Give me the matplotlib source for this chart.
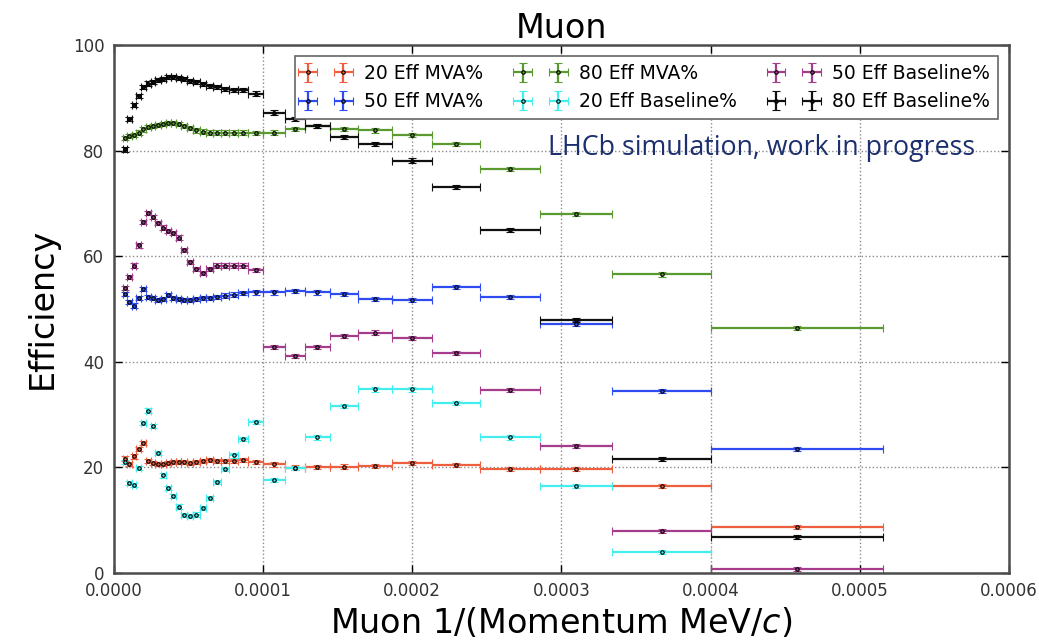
import numpy as np
import matplotlib
matplotlib.use("Agg")
import matplotlib.pyplot as plt
from matplotlib.ticker import FormatStrFormatter, MultipleLocator

# bin edges in units of 1e-4 (1/MeV): fine bins below 1e-4, then wide ones
fine_edges = [0.060, 0.089, 0.119, 0.149, 0.180, 0.212, 0.245, 0.278, 0.313, 0.349,
              0.382, 0.416, 0.450, 0.489, 0.531, 0.575, 0.620, 0.667, 0.717, 0.772,
              0.831, 0.898]
coarse_edges = [1.000, 1.146, 1.280, 1.448, 1.637, 1.861, 2.129, 2.453, 2.855,
                3.342, 4.000, 5.156]

eff20_mva = [21.6, 20.6, 22.0, 23.4, 24.5, 21.1, 20.7, 20.6, 20.6, 20.8, 21.0,
             21.0, 20.9, 20.7, 21.0, 21.2, 21.3, 21.2, 21.1, 21.2, 21.3, 21.0,
             20.5, 19.9, 20.0, 20.1, 20.2, 20.7, 20.4, 19.6, 19.6, 16.4, 8.7]
eff50_mva = [52.8, 51.3, 50.6, 52.0, 53.7, 52.3, 52.0, 51.7, 51.8, 52.6, 52.1,
             51.8, 51.7, 51.7, 51.9, 52.0, 52.1, 52.3, 52.5, 52.7, 53.0, 53.1,
             53.1, 53.4, 53.1, 52.8, 51.8, 51.6, 54.1, 52.2, 47.2, 34.4, 23.4]
eff80_mva = [82.3, 82.7, 83.0, 83.4, 84.0, 84.4, 84.6, 84.8, 85.0, 85.2, 85.2,
             85.0, 84.7, 84.3, 83.8, 83.6, 83.4, 83.4, 83.4, 83.4, 83.4, 83.3,
             83.4, 84.1, 84.6, 84.1, 83.8, 82.9, 81.2, 76.5, 68.0, 56.5, 46.4]
eff20_base = [21.0, 16.9, 16.6, 19.8, 28.4, 30.7, 27.8, 22.7, 18.4, 16.0, 14.5,
              12.5, 10.9, 10.7, 11.0, 12.2, 14.2, 17.2, 19.7, 22.2, 25.3, 28.6,
              17.5, 19.8, 25.6, 31.6, 34.7, 34.7, 32.1, 25.6, 16.4, 3.9, np.nan]
eff50_base = [53.9, 56.0, 58.2, 62.0, 66.5, 68.1, 67.4, 66.3, 65.4, 64.8, 64.4,
              63.5, 61.1, 58.9, 57.5, 56.8, 57.5, 58.2, 58.2, 58.2, 58.2, 57.3,
              42.8, 41.0, 42.8, 44.9, 45.5, 44.4, 41.6, 34.6, 24.0, 7.9, 0.6]
eff80_base = [80.2, 86.0, 88.6, 90.3, 92.0, 92.7, 93.0, 93.3, 93.6, 93.9, 93.9,
              93.7, 93.6, 93.2, 93.0, 92.6, 92.2, 92.0, 91.7, 91.4, 91.5, 90.8,
              87.2, 85.9, 84.6, 82.6, 81.2, 78.1, 73.1, 64.9, 47.9, 21.5, 6.8]
eff_err = 0.4

series = [
    ("20 Eff MVA%", eff20_mva, "#ee5f3f"),
    ("50 Eff MVA%", eff50_mva, "#2f4cf0"),
    ("80 Eff MVA%", eff80_mva, "#5a9a30"),
    ("20 Eff Baseline%", eff20_base, "#44eeee"),
    ("50 Eff Baseline%", eff50_base, "#a53c8c"),
    ("80 Eff Baseline%", eff80_base, "#111111"),
]

edges = np.array(fine_edges + coarse_edges) * 1e-4
centers = 0.5 * (edges[1:] + edges[:-1])
half_w = 0.5 * (edges[1:] - edges[:-1])

fig = plt.figure(figsize=(10.39, 6.42), dpi=100)
ax = fig.add_axes([0.1097, 0.1082, 0.8614, 0.8217])

for label, vals, col in series:
    ax.errorbar(centers, vals, xerr=half_w, yerr=eff_err, fmt=".", color=col,
                ecolor=col, mfc=col, mec="k", ms=5, mew=0.8,
                elinewidth=1.6, capsize=3, capthick=1.2, label=label)

ax.set_xlim(0, 0.0006)
ax.set_ylim(0, 100)
ax.xaxis.set_major_locator(MultipleLocator(0.0001))
ax.xaxis.set_major_formatter(FormatStrFormatter("%.4f"))
ax.yaxis.set_major_locator(MultipleLocator(20))
ax.grid(True, linestyle=":", color="0.55", linewidth=1)
ax.tick_params(direction="in", top=True, right=True, length=6, width=1,
               labelsize=12, labelcolor="0.2", pad=7)
for sp in ax.spines.values():
    sp.set_linewidth(1.8)
    sp.set_color("0.3")

ax.set_title("Muon", fontsize=24, pad=5)
ax.set_ylabel("Efficiency", fontsize=24, labelpad=10)
ax.set_xlabel("Muon 1/(Momentum MeV/$c$)", fontsize=24, labelpad=4)

leg = ax.legend(loc="upper right", ncol=3, numpoints=2, fontsize=13.5,
                fancybox=False, handlelength=2.5, columnspacing=1.8,
                borderaxespad=0.6, framealpha=1)
leg.get_frame().set_edgecolor("0.4")
leg.get_frame().set_linewidth(1.2)

ax.text(0.962, 0.805, "LHCb simulation, work in progress", transform=ax.transAxes,
        ha="right", va="center", fontsize=19.3, color="#1c2f6e", family="Open Sans")

fig.savefig("out.png", dpi=100)
